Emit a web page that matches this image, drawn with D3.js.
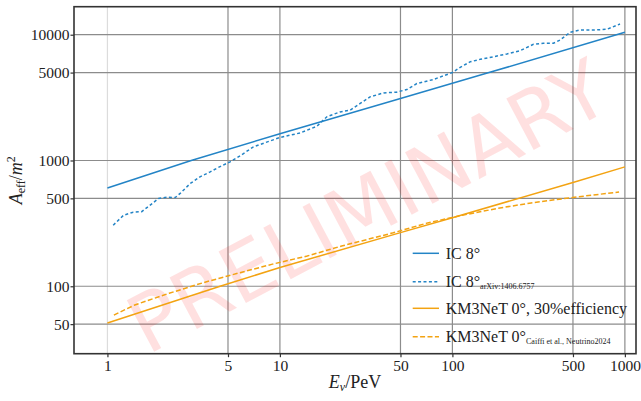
<!DOCTYPE html>
<html><head><meta charset="utf-8">
<script src="https://cdn.jsdelivr.net/npm/d3@7"></script>
<style>
html,body{margin:0;padding:0;background:#fff;}
svg{display:block;}
</style></head><body>
<svg id="chart" width="641" height="401"></svg>
<script>
// Effective area vs neutrino energy (log-log)
const xTicks = [1, 5, 10, 50, 100, 500, 1000];
const yTicks = [50, 100, 500, 1000, 5000, 10000];

// [E_nu / PeV, A_eff / m^2]
const icLine = [[1,605],[3.06,1000],[10,1633],[50,3110],[163,5000],[1000,10450]];
const icArxiv = [[1.08,306],[1.24,367],[1.41,388],[1.58,392],[1.77,442],[1.98,499],[2.21,510],[2.47,507],[2.64,547],[3.02,656],[3.44,741],[3.94,812],[4.5,895],[5.14,975],[5.88,1090],[7.02,1283],[7.68,1341],[10,1524],[13.1,1656],[16.4,1874],[18.7,2224],[22.3,2433],[25.5,2512],[29.2,2840],[33.3,3206],[39.9,3446],[47.3,3490],[54.4,3665],[62.2,4090],[77.6,4405],[100,5000],[111,5500],[127,6100],[145,6370],[173,6680],[207,7030],[247,7470],[295,8390],[337,8550],[385,8550],[421,9070],[481,10450],[550,10900],[657,10900],[785,11040],[937,12160]];
const km3Line = [[1,51],[4.5,100],[10,141],[50,267],[100,351],[500,668],[1000,890]];
const km3Caiffi = [[1.09,59],[1.44,71],[2.28,88],[3.61,107],[5.71,127],[9.06,150],[14.4,174],[22.8,209],[45.4,266],[71.9,319],[114,367],[181,415],[286,460],[497,508],[925,562]];

const legendMain = ["IC 8°", "IC 8°", "KM3NeT 0°, 30%efficiency", "KM3NeT 0°"];
const legendSub = ["", "arXiv:1406.6757", "", "Caiffi et al., Neutrino2024"];

const BLUE = "#2384c6", ORANGE = "#f3a312";
const SERIF = '"Liberation Serif"';
const series = [
  {data: icLine, color: BLUE, dash: null},
  {data: icArxiv, color: BLUE, dash: "3,2.4"},
  {data: km3Line, color: ORANGE, dash: null},
  {data: km3Caiffi, color: ORANGE, dash: "5,2.4"}
];

const svg = d3.select("#chart");
const L = 74, R = 636, T = 6.7, B = 353.7;

const x = d3.scaleLog().domain([0.64, 1160]).range([L, R]);
const y = d3.scaleLog().domain([29.1, 16700]).range([B, T]);

// grid
const grid = svg.append("g");
grid.selectAll("line.v").data(xTicks).join("line")
  .attr("x1", d => x(d)).attr("x2", d => x(d)).attr("y1", T).attr("y2", B)
  .attr("stroke", d => d === 1 ? "#dcdcdc" : "#8c8c8c").attr("stroke-width", 1.2);
grid.selectAll("line.h").data(yTicks).join("line")
  .attr("x1", L).attr("x2", R).attr("y1", d => y(d)).attr("y2", d => y(d))
  .attr("stroke", "#8c8c8c").attr("stroke-width", 1.2);

// watermark
svg.append("text")
  .attr("transform", "translate(368,207) rotate(-28)")
  .attr("text-anchor", "middle").attr("dominant-baseline", "central")
  .style("font-family", '"DejaVu Sans"').attr("font-size", 80)
  .attr("fill", "rgba(255,0,0,0.12)")
  .text("PRELIMINARY");

// curves
const line = d3.line().x(d => x(d[0])).y(d => y(d[1]));
svg.append("g").selectAll("path").data(series).join("path")
  .attr("d", d => line(d.data))
  .attr("fill", "none").attr("stroke", d => d.color).attr("stroke-width", 1.5)
  .attr("stroke-dasharray", d => d.dash);

// axes
const xAxis = svg.append("g").attr("transform", `translate(0,${B})`)
  .call(d3.axisBottom(x).tickValues(xTicks).tickFormat(d3.format("d")).tickSize(3.5).tickPadding(3));
const yAxis = svg.append("g").attr("transform", `translate(${L},0)`)
  .call(d3.axisLeft(y).tickValues(yTicks).tickFormat(d3.format("d")).tickSize(3.5).tickPadding(1));
[xAxis, yAxis].forEach(a => {
  a.select(".domain").remove();
  a.selectAll(".tick line").attr("stroke", "#333").attr("stroke-width", 1.2);
  a.selectAll(".tick text").style("font-family", SERIF).style("font-size", "15.5px").attr("fill", "#222");
});

// frame
svg.append("rect").attr("x", L).attr("y", T).attr("width", R - L).attr("height", B - T)
  .attr("fill", "none").attr("stroke", "#333").attr("stroke-width", 1.6);

// axis labels
const xl = svg.append("text").attr("x", (L + R) / 2).attr("y", 388)
  .attr("text-anchor", "middle").style("font-family", SERIF).style("font-size", "18px").attr("fill", "#222");
xl.append("tspan").style("font-style", "italic").text("E");
xl.append("tspan").style("font-style", "italic").style("font-size", "12px").attr("dy", 3).text("ν");
xl.append("tspan").attr("dy", -3).text("/PeV");

const yl = svg.append("text").attr("transform", `translate(22,${(T + B) / 2}) rotate(-90)`)
  .attr("text-anchor", "middle").style("font-family", SERIF).style("font-size", "18px").attr("fill", "#222");
yl.append("tspan").style("font-style", "italic").text("A");
yl.append("tspan").style("font-size", "12px").attr("dy", 3).text("eff");
yl.append("tspan").attr("dy", -3).text("/");
yl.append("tspan").style("font-style", "italic").text("m");
yl.append("tspan").style("font-size", "12px").attr("dy", -7).text("2");

// legend
const rowY = [253.3, 281.7, 308.3, 336.7];
const lg = svg.append("g");
series.forEach((s, i) => {
  lg.append("line").attr("x1", 412.7).attr("x2", 439).attr("y1", rowY[i]).attr("y2", rowY[i])
    .attr("stroke", s.color).attr("stroke-width", 1.5).attr("stroke-dasharray", s.dash);
  const t = lg.append("text").attr("x", 445.7).attr("y", rowY[i] + 5.5)
    .style("font-family", SERIF).style("font-size", "16px").attr("fill", "#222");
  t.append("tspan").text(legendMain[i]);
  if (legendSub[i]) t.append("tspan").style("font-size", "8px").attr("dy", 2).text(legendSub[i]);
});
</script>
</body></html>
